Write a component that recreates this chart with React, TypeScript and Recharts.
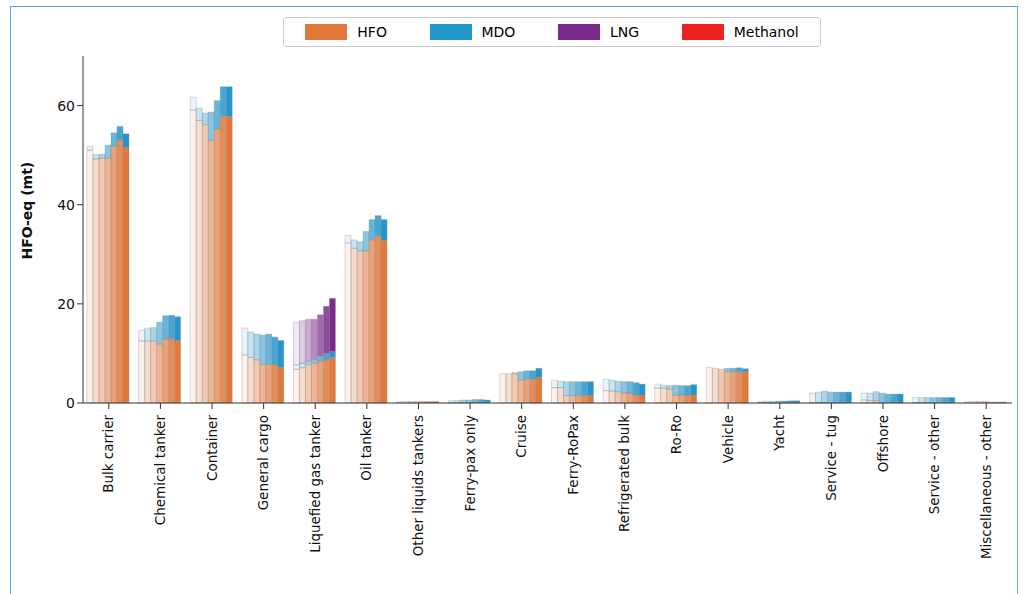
import React from "react";
import { BarChart, Bar, XAxis, YAxis } from "recharts";

const categories = [
  "Bulk carrier", "Chemical tanker", "Container", "General cargo", "Liquefied gas tanker",
  "Oil tanker", "Other liquids tankers", "Ferry-pax only", "Cruise", "Ferry-RoPax",
  "Refrigerated bulk", "Ro-Ro", "Vehicle", "Yacht", "Service - tug", "Offshore",
  "Service - other", "Miscellaneous - other",
];

const years = ["2012", "2013", "2014", "2015", "2016", "2017", "2018"];

// per category, 7 yearly values
const hfo = [
  [51.0, 49.2, 49.4, 49.4, 51.8, 53.0, 51.5],
  [12.5, 12.5, 12.5, 11.9, 12.9, 13.0, 12.6],
  [59.1, 57.0, 56.1, 53.0, 55.3, 57.8, 57.8],
  [9.7, 9.2, 8.7, 7.8, 7.8, 7.7, 7.2],
  [6.8, 7.1, 7.7, 8.0, 8.5, 8.7, 9.2],
  [32.3, 31.2, 30.7, 30.7, 32.9, 33.7, 32.8],
  [0.3, 0.3, 0.3, 0.3, 0.3, 0.3, 0.3],
  [0.1, 0.1, 0.1, 0.1, 0.1, 0.1, 0.1],
  [5.9, 5.9, 5.9, 4.6, 4.8, 4.8, 5.2],
  [3.1, 3.1, 1.5, 1.5, 1.5, 1.5, 1.5],
  [2.5, 2.4, 2.3, 2.0, 2.0, 1.6, 1.6],
  [3.0, 3.0, 2.8, 1.6, 1.6, 1.6, 1.6],
  [7.2, 7.0, 6.8, 6.3, 6.3, 6.3, 6.3],
  [0.05, 0.05, 0.05, 0.05, 0.05, 0.05, 0.05],
  [0.1, 0.1, 0.1, 0.1, 0.1, 0.1, 0.1],
  [0.6, 0.5, 0.5, 0.1, 0.1, 0.1, 0.1],
  [0.1, 0.1, 0.1, 0.1, 0.1, 0.1, 0.1],
  [0.3, 0.3, 0.3, 0.3, 0.2, 0.2, 0.2],
];
const mdo = [
  [0.8, 0.9, 0.8, 2.6, 2.7, 2.8, 2.8],
  [2.2, 2.6, 2.7, 4.4, 4.7, 4.7, 4.8],
  [2.6, 2.5, 2.4, 5.7, 5.7, 6.0, 6.0],
  [5.4, 5.1, 5.2, 5.9, 6.1, 5.6, 5.4],
  [0.9, 0.9, 0.7, 0.8, 1.0, 1.3, 1.2],
  [1.5, 1.7, 1.8, 3.9, 4.1, 4.1, 4.2],
  [0.0, 0.0, 0.0, 0.0, 0.0, 0.0, 0.0],
  [0.4, 0.4, 0.5, 0.5, 0.6, 0.6, 0.5],
  [0.0, 0.0, 0.2, 1.7, 1.7, 1.7, 1.8],
  [1.5, 1.3, 2.8, 2.8, 2.8, 2.8, 2.8],
  [2.3, 2.2, 2.1, 2.3, 2.3, 2.5, 2.2],
  [0.8, 0.6, 0.7, 2.0, 1.9, 1.9, 2.1],
  [0.0, 0.0, 0.0, 0.7, 0.7, 0.8, 0.6],
  [0.3, 0.3, 0.3, 0.35, 0.35, 0.4, 0.4],
  [1.9, 2.1, 2.3, 2.1, 2.1, 2.1, 2.1],
  [1.4, 1.5, 1.8, 1.9, 1.7, 1.7, 1.7],
  [1.0, 1.0, 1.0, 1.0, 1.0, 1.0, 1.0],
  [0.0, 0.0, 0.0, 0.0, 0.0, 0.0, 0.0],
];
const lng = [
  [0, 0, 0, 0, 0, 0, 0],
  [0, 0, 0, 0, 0, 0, 0],
  [0, 0, 0, 0, 0, 0, 0],
  [0, 0, 0, 0, 0, 0, 0],
  [8.6, 8.6, 8.5, 8.1, 8.3, 9.5, 10.7],
  [0, 0, 0, 0, 0, 0, 0],
  [0, 0, 0, 0, 0, 0, 0],
  [0, 0, 0, 0, 0, 0, 0],
  [0, 0, 0, 0, 0, 0, 0],
  [0, 0, 0, 0, 0, 0, 0],
  [0, 0, 0, 0, 0, 0, 0],
  [0, 0, 0, 0, 0, 0, 0],
  [0, 0, 0, 0, 0, 0, 0],
  [0, 0, 0, 0, 0, 0, 0],
  [0, 0, 0, 0, 0, 0, 0],
  [0, 0, 0, 0, 0, 0, 0],
  [0, 0, 0, 0, 0, 0, 0],
  [0, 0, 0, 0, 0, 0, 0],
];
const methanol = categories.map(() => years.map(() => 0));

const fuels = [
  { key: "hfo", label: "HFO", color: "#e2793a", values: hfo },
  { key: "mdo", label: "MDO", color: "#2596cd", values: mdo },
  { key: "lng", label: "LNG", color: "#7a2a8c", values: lng },
  { key: "met", label: "Methanol", color: "#ee2222", values: methanol },
];
const opacities = [0.1, 0.25, 0.4, 0.55, 0.7, 0.85, 1];

const data = categories.map((name, ci) => {
  const row: Record<string, string | number> = { name };
  years.forEach((_, yi) => {
    fuels.forEach((f) => {
      row[`${f.key}_${yi}`] = f.values[ci][yi];
    });
  });
  return row;
});

const font = "'DejaVu Sans', sans-serif";

export default function App() {
  return (
    <div style={{ position: "absolute", left: 0, top: 0, width: 1028, height: 594, background: "#fff", fontFamily: font }}>
      <div style={{ position: "absolute", left: 10, top: 6, width: 1006, height: 600, border: "1.5px solid #5aa7d8" }} />
      <div style={{ position: "absolute", left: 283, top: 17, width: 536, height: 28, border: "1px solid #ccc", borderRadius: 3, display: "flex", alignItems: "center", justifyContent: "space-around", fontSize: 14, background: "#fff", zIndex: 2 }}>
        {fuels.map((f) => (
          <div key={f.key} style={{ display: "flex", alignItems: "center", gap: 10 }}>
            <span style={{ display: "inline-block", width: 42, height: 16, background: f.color }} />
            <span>{f.label}</span>
          </div>
        ))}
      </div>
      <BarChart width={1028} height={594} data={data} margin={{ top: 56, right: 16, bottom: 6, left: 0 }} barCategoryGap={4} barGap={0}>
        <XAxis dataKey="name" interval={0} height={185} tick={{ angle: -90, textAnchor: "end", dx: -5, dy: 4, fontSize: 13.5, fill: "#111", fontFamily: font }} stroke="#333" />
        <YAxis width={83} domain={[0, 70]} ticks={[0, 20, 40, 60]} tick={{ fontSize: 14, fill: "#111", fontFamily: font }} stroke="#333"
          label={{ value: "HFO-eq (mt)", angle: -90, position: "insideLeft", dx: 22, dy: 30, fontSize: 14, fontWeight: "bold", fill: "#111" }} />
        {years.flatMap((_, yi) =>
          fuels.map((f) => (
            <Bar key={`${f.key}_${yi}`} dataKey={`${f.key}_${yi}`} stackId={`y${yi}`} fill={f.color}
              fillOpacity={opacities[yi]} stroke="#888" strokeOpacity={0.5} strokeWidth={0.6} isAnimationActive={false} />
          ))
        )}
      </BarChart>
    </div>
  );
}
